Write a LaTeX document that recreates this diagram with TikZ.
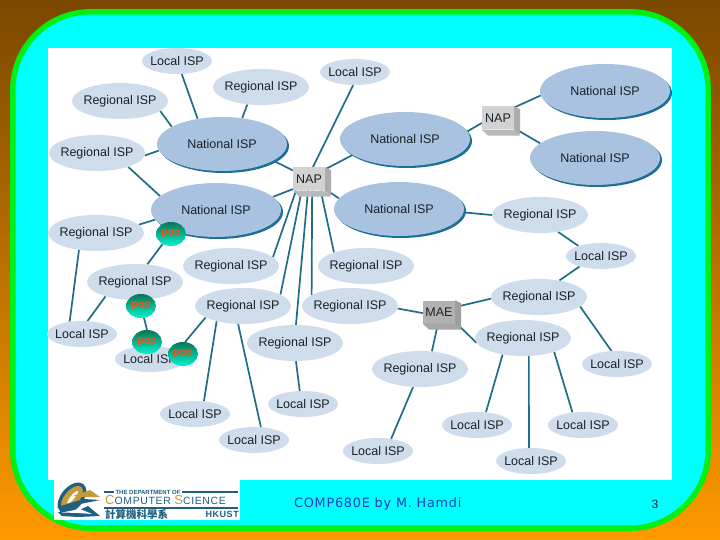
\documentclass[tikz,border=0pt]{standalone}
\usepackage{fontspec}
\setmainfont{Liberation Sans}
\newfontfamily\footfont[LetterSpace=6]{DejaVu Sans}
\newfontfamily\cjkfont{Noto Sans CJK TC}
\newfontfamily\logofont[LetterSpace=6]{Liberation Sans}
\usetikzlibrary{shapes.geometric,shadows}
\pgfdeclarelayer{basel}\pgfdeclarelayer{linkl}
\pgfsetlayers{basel,linkl,main}
\definecolor{regc}{HTML}{CFDCEC}
\definecolor{natc}{HTML}{A8C2E0}
\definecolor{linkc}{HTML}{1F6E85}
\definecolor{shadc}{HTML}{1C6F96}
\definecolor{txtc}{HTML}{1C2228}
\definecolor{logoc}{HTML}{1F5F7F}
\definecolor{goldc}{HTML}{C49A3A}
\definecolor{bgtop}{HTML}{7A4800}
\definecolor{bgbot}{HTML}{FF9900}
\definecolor{framec}{HTML}{00F014}
\definecolor{panelc}{HTML}{00FFFF}
\definecolor{poptop}{HTML}{0B7558}
\definecolor{popmid}{HTML}{00A880}
\definecolor{popbot}{HTML}{00F5CC}
\definecolor{poptxt}{HTML}{F0561A}
\definecolor{footc}{HTML}{1040C0}
\newcommand\lbl[1]{\makebox[0pt]{#1}}
\newcommand\cubeside[3]{%
  \fill[#2] (#1.north east) -- ++(6,3) -- ++(0,25) -- ++(-6,0) -- (#1.south east) -- cycle;
  \fill[#3] (#1.south west) -- (#1.south east) -- ++(6,6) -- ++(-32,0) -- cycle;}
\tikzset{
  isp/.style={ellipse,inner sep=0pt,draw=none,text=txtc,font=\fontsize{12.5}{14}\selectfont},
  regsty/.style={isp,fill=regc,minimum width=96pt,minimum height=36pt},
  locsty/.style={isp,fill=regc,minimum width=70pt,minimum height=26pt},
  natsty/.style={isp,fill=natc,minimum width=130pt,minimum height=54pt,
    copy shadow={shadow xshift=2pt,shadow yshift=-2pt,fill=shadc,draw=none}},
  popsty/.style={ellipse,inner sep=0pt,minimum width=30pt,minimum height=24pt,
    top color=poptop,middle color=popmid,bottom color=popbot,
    text=poptxt,font=\bfseries\fontsize{10.5}{10}\selectfont},
  boxsty/.style={rectangle,inner sep=0pt,minimum width=32pt,minimum height=23pt,text=txtc,
    font=\fontsize{12.5}{14}\selectfont},
  link/.style={draw=linkc,line width=1.7pt},
  x=1pt,y=-1pt
}
\begin{document}
\begin{tikzpicture}
\useasboundingbox (0,0) rectangle (720,540);
\begin{pgfonlayer}{basel}
\shade[top color=bgtop,bottom color=bgbot] (0,0) rectangle (720,540);
\draw[draw=framec,fill=panelc,line width=5.5pt,rounded corners=78pt] (12.8,11.8) rectangle (708.2,528.2);
\fill[white] (48,48) rectangle (672,480);
\end{pgfonlayer}

% nationals
\node[natsty] (n1) at (222,144) {\lbl{National ISP}};
\node[natsty] (n2) at (405,139) {\lbl{National ISP}};
\node[natsty] (n3) at (216,210) {\lbl{National ISP}};
\node[natsty] (n4) at (399,209) {\lbl{National ISP}};
\node[natsty] (n5) at (605,91) {\lbl{National ISP}};
\node[natsty] (n6) at (595,158) {\lbl{National ISP}};
% regionals
\node[regsty] (r1) at (120,101) {\lbl{Regional ISP}};
\node[regsty] (r2) at (261,87) {\lbl{Regional ISP}};
\node[regsty] (r3) at (97,153) {\lbl{Regional ISP}};
\node[regsty] (r4) at (96,233) {\lbl{Regional ISP}};
\node[regsty] (r5) at (135,282) {\lbl{Regional ISP}};
\node[regsty] (r6) at (231,266) {\lbl{Regional ISP}};
\node[regsty] (r7) at (366,266) {\lbl{Regional ISP}};
\node[regsty] (r8) at (243,306) {\lbl{Regional ISP}};
\node[regsty] (r9) at (350,306) {\lbl{Regional ISP}};
\node[regsty] (r10) at (295,343) {\lbl{Regional ISP}};
\node[regsty] (r11) at (420,369) {\lbl{Regional ISP}};
\node[regsty] (r12) at (540,215) {\lbl{Regional ISP}};
\node[regsty] (r13) at (539,297) {\lbl{Regional ISP}};
\node[regsty] (r14) at (523,338) {\lbl{Regional ISP}};
% locals
\node[locsty] (l1) at (177,61) {\lbl{Local ISP}};
\node[locsty] (l2) at (355,72) {\lbl{Local ISP}};
\node[locsty] (l3) at (601,256) {\lbl{Local ISP}};
\node[locsty] (l4) at (82,334) {\lbl{Local ISP}};
\node[locsty] (l5) at (150,359) {\lbl{Local ISP}};
\node[locsty] (l6) at (617,364) {\lbl{Local ISP}};
\node[locsty] (l7) at (195,414) {\lbl{Local ISP}};
\node[locsty] (l8) at (303,404) {\lbl{Local ISP}};
\node[locsty] (l9) at (254,440) {\lbl{Local ISP}};
\node[locsty] (l10) at (378,451) {\lbl{Local ISP}};
\node[locsty] (l11) at (477,425) {\lbl{Local ISP}};
\node[locsty] (l12) at (583,425) {\lbl{Local ISP}};
\node[locsty] (l13) at (531,461) {\lbl{Local ISP}};
% boxes
\node[boxsty,fill=gray!35] (nap1) at (309,179) {NAP};
\cubeside{nap1}{gray!65}{gray!55}
\node[boxsty,fill=gray!35] (nap2) at (498,118) {NAP};
\cubeside{nap2}{gray!65}{gray!55}
\node[boxsty,fill=gray!60] (mae) at (439,312) {MAE};
\cubeside{mae}{gray!75}{gray!70}
% pops
\node[popsty] (p1) at (171,234) {\raisebox{1pt}{\lbl{pop}}};
\node[popsty] (p2) at (141,306) {\raisebox{1pt}{\lbl{pop}}};
\node[popsty] (p3) at (147,342) {\raisebox{1pt}{\lbl{pop}}};
\node[popsty] (p4) at (183,354) {\raisebox{1pt}{\lbl{pop}}};

\begin{pgfonlayer}{linkl}
\draw[link] (l1.-70) -- (n1.134);
\draw[link] (r1.-14) -- (n1.161);
\draw[link] (r2.-128) -- (n1.52);
\draw[link] (r3.-3) -- (n1.186);
\draw[link] (r3.-24) -- (n3.166);
\draw[link] (n1.-18) -- (nap1.152);
\draw[link] (l2.-98) -- (nap1.72);
\draw[link] (n2.197) -- (nap1.31);
\draw[link] (n2.7) -- (nap2.197);
\draw[link] (nap2.33) -- (n5.184);
\draw[link] (nap2.-32) -- (n6.165);
\draw[link] (n3.13) -- (nap1.212);
\draw[link] (nap1.-32) -- (n4.170);
\draw[link] (nap1.222) -- (r6.12);
\draw[link] (nap1.238) -- (r8.17);
\draw[link] (nap1.265) -- (r10.87);
\draw[link] (nap1.285) -- (r9.164);
\draw[link] (nap1.-45) -- (r7.157);
\draw[link] (n4.-3) -- (r12.180);
\draw[link] (r12.-43) -- (l3.156);
\draw[link] (l3.206) -- (r13.39);
\draw[link] (r13.-13) -- (l6.113);
\draw[link] (r13.182) -- (mae.17);
\draw[link] (mae.-32) -- (r14.186);
\draw[link] (r9.-3) -- (mae.184);
\draw[link] (mae.265) -- (r11.56);
\draw[link] (r11.249) -- (l10.43);
\draw[link] (r14.219) -- (l11.55);
\draw[link] (r14.-72) -- (l13.99);
\draw[link] (r14.-24) -- (l12.130);
\draw[link] (r8.210) -- (l7.55);
\draw[link] (r8.255) -- (l9.62);
\draw[link] (r10.-87) -- (l8.104);
\draw[link] (r8.197) -- (p4.80);
\draw[link] (r4.11) -- (n3.189);
\draw[link] (p1.230) -- (r5.55);
\draw[link] (r4.225) -- (l4.135);
\draw[link] (r5.206) -- (l4.67);
\draw[link] (p2.-76) -- (p3.90);
\end{pgfonlayer}

% footer
\node[inner sep=0pt,anchor=west,text=footc,font=\footfont\fontsize{12.8}{14}\selectfont] (foot) at (294,504) {COMP680E by M. Hamdi};
\node[inner sep=0pt,text=txtc,font=\fontsize{12}{14}\selectfont] (pg) at (655,504) {3};

% logo
\fill[white] (54,480) rectangle (240,520);
\fill[logoc,rotate around={50:(72,498)}] (72,498) ellipse (18 and 11);
\fill[goldc,rotate around={50:(72,498)}] (72,498) ellipse (14.5 and 7.5);
\fill[white,rotate around={50:(72,498)}] (73,498) ellipse (8 and 2);
\fill[logoc] (57,507) -- (84,499) -- (100,500) -- (80,504) -- (66,511) -- cycle;
\fill[goldc] (73,496) -- (90,490) -- (100,497) -- (82,497) -- cycle;
\fill[logoc] (58,512) -- (75,512) -- (88,506) -- (100,516) -- (78,517) -- (62,516) -- cycle;
\fill[white] (62,512.5) -- (80,509) -- (92,514) -- (78,513) -- cycle;
\fill[logoc] (104,491) rectangle (114,493);
\fill[logoc] (182,491) rectangle (238,493);
\fill[logoc] (104,506.5) rectangle (238,508.5);
\node[inner sep=0pt,text=logoc,font=\bfseries\fontsize{6}{6}\selectfont] (ld) at (148,492) {THE DEPARTMENT OF};
\node[inner sep=0pt,anchor=west,text=logoc,font=\logofont\fontsize{10.5}{11}\selectfont] (lc) at (105,500) {{\color{goldc}\fontsize{13}{11}\selectfont C}OMPUTER {\color{goldc}\fontsize{13}{11}\selectfont S}CIENCE};
\node[inner sep=0pt,anchor=west,text=logoc,font=\cjkfont\bfseries\fontsize{10.5}{11}\selectfont] (lz) at (105,514.5) {計算機科學系};
\node[inner sep=0pt,anchor=east,text=logoc,font=\logofont\bfseries\fontsize{9}{11}\selectfont] (lh) at (239,514.5) {HKUST};
\end{tikzpicture}
\end{document}
